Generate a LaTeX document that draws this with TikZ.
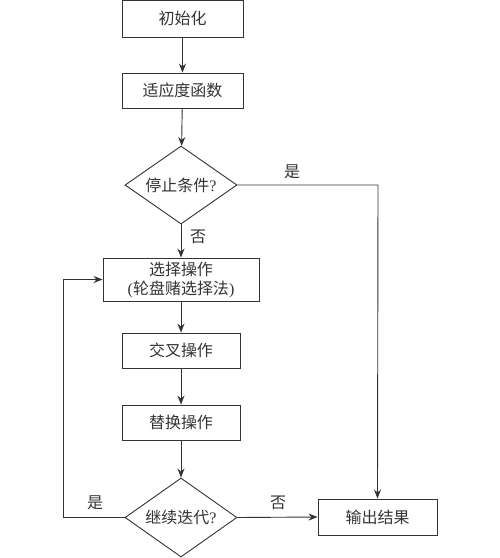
\documentclass[tikz,border=0pt]{standalone}
\usepackage{fontspec}
\setmainfont{Liberation Serif}
\newfontfamily\cjk{Noto Sans CJK SC}
\usetikzlibrary{shapes.geometric,arrows.meta}
\definecolor{ink}{gray}{0.2}
\tikzset{
  box/.style={draw=ink, line width=0.9pt, rectangle, inner sep=0pt, text=ink, font=\fontsize{16}{19}\selectfont},
  dia/.style={draw=ink, line width=0.9pt, diamond, inner sep=0pt, minimum width=112pt, minimum height=78pt, aspect=1.44, text=ink, font=\fontsize{16}{19}\selectfont},
  arr/.style={draw=ink, line width=0.9pt, -{Stealth[length=9pt,width=7pt]}},
  lab/.style={font=\fontsize{16}{19}\selectfont, inner sep=0pt, text=ink}
}
\begin{document}
\begin{tikzpicture}[x=1pt,y=-1pt]
\useasboundingbox (0,0) rectangle (500,558);
\node[box, minimum width=121pt, minimum height=37pt] (init) at (182.5,18.5) {\cjk 初始化};
\node[box, minimum width=121pt, minimum height=35pt] (fit) at (182.5,90.5) {\cjk 适应度函数};
\node[dia] (stop) at (181,185) {{\cjk 停止条件}?};
\node[box, minimum width=156pt, minimum height=43pt, align=center] (sel) at (181,279.5) {{\cjk 选择操作}\\({\cjk 轮盘赌选择法})};
\node[box, minimum width=118pt, minimum height=35pt] (cross) at (181,350.5) {\cjk 交叉操作};
\node[box, minimum width=118pt, minimum height=35pt] (rep) at (181,422.5) {\cjk 替换操作};
\node[dia, minimum height=79pt] (cont) at (181,517.5) {{\cjk 继续迭代}?};
\node[box, minimum width=119pt, minimum height=36pt] (out) at (377.5,517) {\cjk 输出结果};
\coordinate (c1) at (378,185);
\coordinate (c2) at (63,517.5);
\coordinate (c3) at (63,279.5);
\draw[arr] (init) -- (fit);
\draw[arr] (fit) -- (stop);
\draw[arr] (stop) -- (sel);
\draw[arr] (sel) -- (cross);
\draw[arr] (cross) -- (rep);
\draw[arr] (rep) -- (cont);
\draw[arr] (stop.east) -- (c1) -- (out.north);
\draw[arr] (cont.east) -- (out.west);
\draw[arr] (cont.west) -- (c2) -- (c3) -- (sel.west);
\node[lab] (l1) at (292,172) {\cjk 是};
\node[lab] (l2) at (198,237) {\cjk 否};
\node[lab] (l3) at (95,503) {\cjk 是};
\node[lab] (l4) at (278,503) {\cjk 否};
\end{tikzpicture}
\end{document}
